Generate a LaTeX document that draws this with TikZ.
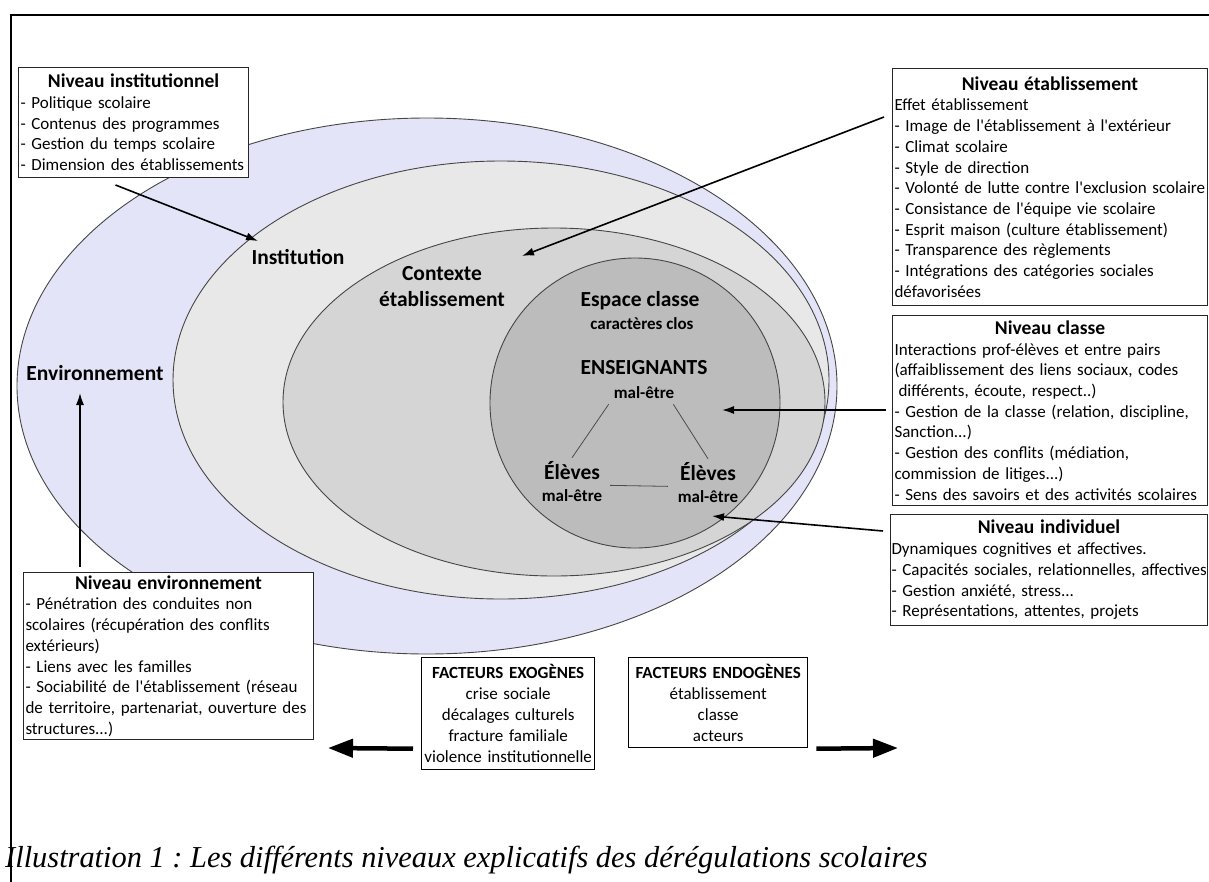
\documentclass[tikz,border=0pt]{standalone}
\usepackage{fontspec}
\setmainfont{Carlito}[Ligatures=TeXOff]
\newfontfamily\captionfont{Liberation Serif}
\usepackage{xcolor}
\usetikzlibrary{arrows.meta}

\definecolor{envfill}{RGB}{228,228,248}
\definecolor{instfill}{RGB}{232,232,232}
\definecolor{etabfill}{RGB}{213,213,213}
\definecolor{classfill}{RGB}{188,188,188}
\definecolor{ringline}{RGB}{70,70,70}

\newcommand{\boxtitle}[1]{{\centering\bfseries\fontsize{19.5}{22.5}\selectfont #1\par}%
    \rightskip=0pt plus 1fil minus 40pt\relax\hyphenpenalty=10000\relax}

\begin{document}
\begin{tikzpicture}[x=1pt,y=-1pt]
\tikzset{
    ring/.style={draw=ringline, line width=0.9pt},
    levelbox/.style={draw=black!85, line width=1pt, fill=white, anchor=north west,
        inner xsep=2pt, inner ysep=1pt, align=left, font=\fontsize{17}{20.7}\selectfont},
    factorbox/.style={draw=black, line width=1.4pt, fill=white, anchor=north west,
        inner xsep=0pt, inner ysep=1pt, align=center, font=\fontsize{17}{20.9}\selectfont},
    bigtag/.style={font=\bfseries\fontsize{21.5}{26}\selectfont, inner sep=3pt},
    smalltag/.style={font=\bfseries\fontsize{17}{20}\selectfont, inner sep=3pt},
    tie/.style={draw=black!70, line width=0.8pt},
    pointer/.style={-{Latex[length=12pt,width=8pt]}, line width=1.6pt},
    fatpointer/.style={-{Triangle[length=25pt,width=18pt]}, line width=4.5pt}
}

\clip (0,0) rectangle (1209,881);
\draw[line width=1.2pt] (1215,15) -- (11,15) -- (11,890);

\draw[ring, fill=envfill]   (427,386) ellipse [x radius=410pt, y radius=268pt];
\draw[ring, fill=instfill]  (501,380) ellipse [x radius=328pt, y radius=219pt];
\draw[ring, fill=etabfill]  (554,402) ellipse [x radius=271pt, y radius=174pt];
\draw[ring, fill=classfill] (635,403) circle [radius=145pt];

\node[bigtag, anchor=base] (env) at (95,380) {Environnement};
\node[bigtag, anchor=base] (inst-lbl) at (298,264) {Institution};
\node[bigtag, align=center] (ctx) at (442,287) {Contexte\\établissement};
\node[bigtag, anchor=base] (espace) at (640,306) {Espace classe};
\node[smalltag, anchor=base] (clos) at (642,329) {caractères clos};
\node[bigtag, anchor=base] (ens) at (644,374) {ENSEIGNANTS};
\node[smalltag, anchor=base] (ens-mal) at (644,398) {mal-être};
\node[bigtag, anchor=base] (elv-l) at (572,479) {Élèves};
\node[smalltag, anchor=base] (elv-l-mal) at (572,501) {mal-être};
\node[bigtag, anchor=base] (elv-r) at (708,480) {Élèves};
\node[smalltag, anchor=base] (elv-r-mal) at (708,502) {mal-être};

\draw[tie] ([xshift=-2pt,yshift=-3pt]ens-mal.south west) -- (elv-l.north);
\draw[tie] ([xshift=-4pt,yshift=-3pt]ens-mal.south east) -- (elv-r.north);
\draw[tie] ([xshift=7pt,yshift=-3pt]elv-l.south east) -- ([xshift=-9pt,yshift=-3pt]elv-r.south west);

\node[levelbox, text width=226pt, minimum height=110pt] (inst) at (18,67) {%
\boxtitle{Niveau institutionnel}
- Politique scolaire\\
- Contenus des programmes\\
- Gestion du temps scolaire\\
- Dimension des établissements};

\node[levelbox, text width=311pt, minimum height=237pt] (etab) at (892,68) {%
\boxtitle{Niveau établissement}
Effet établissement\\
- Image de l'établissement à l'extérieur\\
- Climat scolaire\\
- Style de direction\\
- Volonté de lutte contre l'exclusion scolaire\\
- Consistance de l'équipe vie scolaire\\
- Esprit maison (culture établissement)\\
- Transparence des règlements\\
- Intégrations des catégories sociales\\
défavorisées};

\node[levelbox, text width=311pt, minimum height=190pt] (classe) at (892,315) {%
\boxtitle{Niveau classe}
Interactions prof-élèves et entre pairs\\
(affaiblissement des liens sociaux, codes\\
\hspace*{4pt}différents, écoute, respect..)\\
- Gestion de la classe (relation, discipline,\\
Sanction...)\\
- Gestion des conflits (médiation,\\
commission de litiges...)\\
- Sens des savoirs et des activités scolaires};

\node[levelbox, inner xsep=1pt, text width=315pt, minimum height=111pt] (indiv) at (890,514) {%
\boxtitle{Niveau individuel}
Dynamiques cognitives et affectives.\\
- Capacités sociales, relationnelles, affectives\\
- Gestion anxiété, stress...\\
- Représentations, attentes, projets};

\node[levelbox, text width=286pt, minimum height=167pt] (envi) at (23,572) {%
\boxtitle{Niveau environnement}
- Pénétration des conduites non\\
scolaires (récupération des conflits\\
extérieurs)\\
- Liens avec les familles\\
- Sociabilité de l'établissement (réseau\\
de territoire, partenariat, ouverture des\\
structures...)};

\node[factorbox, text width=173pt, minimum height=112pt] (exo) at (421,657) {%
\textbf{FACTEURS EXOGÈNES}\\
crise sociale\\
décalages culturels\\
fracture familiale\\
violence institutionnelle};

\node[factorbox, text width=179pt, minimum height=90pt] (endo) at (628,657) {%
\textbf{FACTEURS ENDOGÈNES}\\
établissement\\
classe\\
acteurs};

\coordinate (inst-tip) at (258,241);
\coordinate (etab-tip) at (522,256);
\coordinate (classe-tip) at (722,410);
\coordinate (indiv-tip) at (712,516);
\coordinate (envi-tip) at (80,393);
\coordinate (exo-tip) at (328,748);
\coordinate (endo-tip) at (898,748);

\draw[pointer] ([xshift=-18pt,yshift=-7pt]inst.south) -- (inst-tip);
\draw[pointer] ([xshift=-8pt,yshift=-49pt]etab.north west) -- (etab-tip);
\draw[pointer] ([xshift=-6pt,yshift=-95pt]classe.north west) -- (classe-tip);
\draw[pointer] ([xshift=-7pt,yshift=-17pt]indiv.north west) -- (indiv-tip);
\draw[pointer] ([xshift=57pt,yshift=5pt]envi.north west) -- (envi-tip);

\draw[fatpointer] ([xshift=-8pt,yshift=-35pt]exo.west) -- (exo-tip);
\draw[fatpointer] ([xshift=8pt,yshift=-46pt]endo.east) -- (endo-tip);

\node[anchor=base west, inner sep=0pt, font=\captionfont\itshape\fontsize{30.4}{36}\selectfont] (caption) at (5,867)
    {\frenchspacing Illustration 1 :\ Les différents niveaux explicatifs des dérégulations scolaires};

\end{tikzpicture}
\end{document}
